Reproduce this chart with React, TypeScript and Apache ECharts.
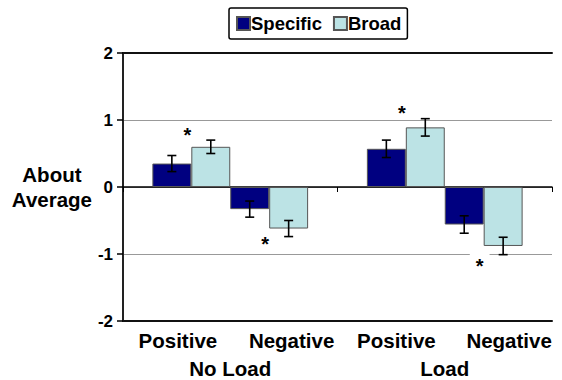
import React, { useEffect, useRef } from 'react';
import * as echarts from 'echarts';

// Categories
const groups = ['No Load', 'Load'];
const valences = ['Positive', 'Negative'];
const subLabels = ['Positive', 'Negative', 'Positive', 'Negative'];
const legendNames = ['Specific', 'Broad'];
// y ticks: -2 .. 2 step 1
const yMin = -2;
const yMax = 2;
const yStep = 1;

// Values ordered: No Load Positive, No Load Negative, Load Positive, Load Negative
const specificValues = [0.35, -0.33, 0.57, -0.56];
const specificErrors = [0.12, 0.12, 0.13, 0.13];
const broadValues = [0.6, -0.62, 0.89, -0.88];
const broadErrors = [0.1, 0.12, 0.13, 0.13];
// significance markers (*) level for each condition
const starLevels = [0.85, -0.79, 1.17, -1.11];

const FONT = '"Liberation Sans", Arial, Helvetica, sans-serif';
const NAVY = '#000080';
const LIGHT = '#BCE3E5';
const GAP = 0.274;

export default function App() {
  const ref = useRef<HTMLDivElement>(null);

  useEffect(() => {
    if (!ref.current) return;
    const chart = echarts.init(ref.current, null, { renderer: 'svg' });

    const barSeries: any[] = [];
    const errData: number[][] = [];
    const starData: number[][] = [];
    valences.forEach((_, v) => {
      const sets = [
        { name: legendNames[0], vals: specificValues, errs: specificErrors, color: NAVY },
        { name: legendNames[1], vals: broadValues, errs: broadErrors, color: LIGHT },
      ];
      sets.forEach((s, k) => {
        const slot = v * 2 + k;
        barSeries.push({
          type: 'bar',
          name: s.name,
          xAxisIndex: 0,
          barGap: '0%',
          barCategoryGap: (GAP * 100).toFixed(1) + '%',
          itemStyle: { color: s.color, borderColor: '#555', borderWidth: 1 },
          data: groups.map((_, g) => s.vals[g * 2 + v]),
        });
        groups.forEach((_, g) => {
          const val = s.vals[g * 2 + v];
          const e = s.errs[g * 2 + v];
          errData.push([g, slot, val - e, val + e]);
        });
      });
      groups.forEach((_, g) => {
        starData.push([g, v, starLevels[g * 2 + v], g * 2 + v]);
      });
    });

    const option: any = {
      animation: false,
      backgroundColor: '#fff',
      textStyle: { fontFamily: FONT },
      legend: {
        data: legendNames,
        left: 229,
        top: 8,
        padding: [6, 6, 6, 7],
        borderColor: '#000',
        borderWidth: 1.5,
        borderRadius: 2,
        itemWidth: 13,
        itemHeight: 13,
        itemGap: 11,
        icon: 'rect',
        selectedMode: false,
        textStyle: {
          fontSize: 18.5,
          fontWeight: 'bold',
          color: '#000',
          fontFamily: FONT,
          padding: [0, 0, 0, -4],
        },
      },
      grid: { left: 123, right: 10, top: 53, bottom: 59, containLabel: false },
      xAxis: [
        {
          type: 'category',
          data: groups,
          position: 'bottom',
          axisLine: { onZero: true, lineStyle: { color: '#000', width: 1.5 } },
          axisTick: { show: true, length: 5, lineStyle: { color: '#000', width: 1 } },
          axisLabel: { show: false },
          splitLine: { show: false },
        },
        {
          type: 'category',
          data: groups,
          position: 'bottom',
          offset: 0,
          axisLine: { onZero: false, lineStyle: { color: '#111', width: 2 } },
          axisTick: { show: false },
          axisLabel: {
            margin: 37,
            fontSize: 20.5,
            fontWeight: 'bold',
            color: '#000',
            fontFamily: FONT,
          },
        },
        {
          type: 'category',
          data: subLabels,
          position: 'bottom',
          offset: 0,
          axisLine: { show: false, onZero: false },
          axisTick: { show: false },
          axisLabel: {
            margin: 9,
            interval: 0,
            fontSize: 20.5,
            fontWeight: 'bold',
            color: '#000',
            fontFamily: FONT,
            formatter: (v: string, i: number) => `{p${i}|${v}}`,
            rich: {
              p0: { padding: [0, 0, 0, 2.5], fontSize: 20.5, fontWeight: 'bold', fontFamily: FONT },
              p1: { padding: [0, 0, 0, 15.5], fontSize: 20.5, fontWeight: 'bold', fontFamily: FONT },
              p2: { padding: [0, 0, 0, 10.5], fontSize: 20.5, fontWeight: 'bold', fontFamily: FONT },
              p3: { padding: [0, 0, 0, 21.5], fontSize: 20.5, fontWeight: 'bold', fontFamily: FONT },
            },
          },
        },
        {
          type: 'category',
          data: groups,
          position: 'top',
          offset: 0,
          axisLine: { onZero: false, lineStyle: { color: '#111', width: 2 } },
          axisTick: { show: false },
          axisLabel: { show: false },
        },
      ],
      yAxis: {
        type: 'value',
        min: yMin,
        max: yMax,
        interval: yStep,
        name: 'About\nAverage',
        nameLocation: 'middle',
        nameRotate: 0,
        nameGap: 66,
        nameTextStyle: {
          fontSize: 20.5,
          fontWeight: 'bold',
          color: '#000',
          lineHeight: 25,
          align: 'center',
          verticalAlign: 'middle',
          fontFamily: FONT,
        },
        axisLine: { show: true, lineStyle: { color: '#222', width: 2 } },
        axisTick: { show: true, length: 6, lineStyle: { color: '#000', width: 1.5 } },
        axisLabel: {
          margin: 10,
          fontSize: 17,
          fontWeight: 'bold',
          color: '#000',
          fontFamily: FONT,
        },
        splitLine: { show: true, lineStyle: { color: '#999', width: 1 } },
      },
      series: [
        ...barSeries,
        {
          type: 'custom',
          name: 'errors',
          xAxisIndex: 0,
          z: 5,
          encode: { x: 0, y: [2, 3] },
          data: errData,
          renderItem: (params: any, api: any) => {
            const g = api.value(0);
            const slot = api.value(1);
            const lo = api.value(2);
            const hi = api.value(3);
            const band = api.size([1, 0])[0];
            const bw = (band * (1 - GAP)) / 4;
            const c = api.coord([g, 0]);
            const x = c[0] + (slot - 1.5) * bw;
            const yLo = api.coord([g, lo])[1];
            const yHi = api.coord([g, hi])[1];
            const half = 4.5;
            const st = { stroke: '#000', lineWidth: 1.6 };
            return {
              type: 'group',
              children: [
                { type: 'line', shape: { x1: x, y1: yLo, x2: x, y2: yHi }, style: st },
                { type: 'line', shape: { x1: x - half, y1: yLo, x2: x + half, y2: yLo }, style: st },
                { type: 'line', shape: { x1: x - half, y1: yHi, x2: x + half, y2: yHi }, style: st },
              ],
            };
          },
        },
        {
          type: 'custom',
          name: 'stars',
          xAxisIndex: 0,
          z: 6,
          encode: { x: 0, y: 2 },
          data: starData,
          renderItem: (params: any, api: any) => {
            const g = api.value(0);
            const v = api.value(1);
            const lvl = api.value(2);
            const idx = api.value(3);
            const band = api.size([1, 0])[0];
            const bw = (band * (1 - GAP)) / 4;
            const c = api.coord([g, lvl]);
            const x = c[0] + (v * 2 - 1) * bw - 4;
            const masked = idx === 3;
            return {
              type: 'text',
              x,
              y: c[1] + 4.5,
              style: {
                text: '*',
                fill: '#000',
                font: `bold 20px ${FONT}`,
                align: 'center',
                verticalAlign: 'middle',
                backgroundColor: masked ? '#fff' : undefined,
                padding: masked ? [4, 6, 4, 6] : 0,
              },
            };
          },
        },
      ],
    };

    chart.setOption(option);
    return () => chart.dispose();
  }, []);

  return (
    <div
      ref={ref}
      style={{ position: 'fixed', left: 0, top: 0, width: 562, height: 380, background: '#fff' }}
    />
  );
}
